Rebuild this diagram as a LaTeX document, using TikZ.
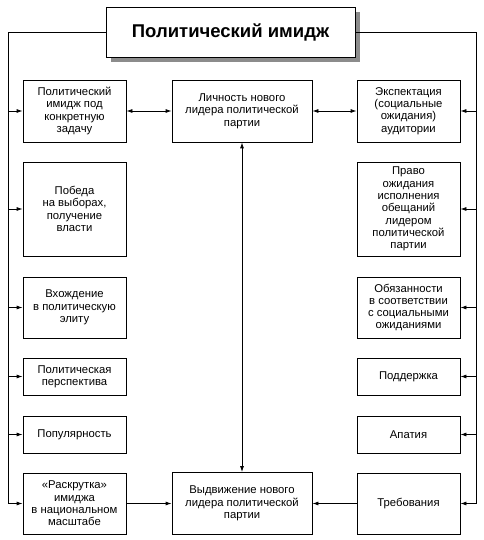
\documentclass[tikz,border=0pt]{standalone}
\usepackage{fontspec}
\setmainfont{Liberation Sans}
\usetikzlibrary{arrows.meta}
\begin{document}
\begin{tikzpicture}[x=1pt,y=-1pt,
  box/.style={draw=black,line width=0.8pt,fill=white,inner sep=0pt,align=center,
    font=\fontsize{11.3}{12.3}\selectfont},
  sidebox/.style={box,minimum width=103pt},
  midbox/.style={box,minimum width=140pt,minimum height=62pt},
  conn/.style={line width=0.8pt},
  arr/.style={conn,-{Latex[length=6pt,width=4pt]}},
  darr/.style={conn,{Latex[length=6pt,width=4pt]}-{Latex[length=6pt,width=4pt]}}
]
\useasboundingbox (0,0) rectangle (483,540);
% title
\fill[black!45] (111,12) rectangle (360,62);
\node[box,minimum width=249pt,minimum height=50pt,font=\fontsize{18.5}{20}\bfseries\selectfont] (T) at (230.5,32) {Политический имидж};
% left column
\node[sidebox,minimum height=62pt] (L1) at (74.5,111) {Политический\\имидж под\\конкретную\\задачу};
\node[sidebox,minimum height=94pt] (L2) at (74.5,209) {Победа\\на выборах,\\получение\\власти};
\node[sidebox,minimum height=61pt] (L3) at (74.5,307.5) {Вхождение\\в политическую\\элиту};
\node[sidebox,minimum height=37pt] (L4) at (74.5,376.5) {Политическая\\перспектива};
\node[sidebox,minimum height=37pt] (L5) at (74.5,434.5) {Популярность};
\node[sidebox,minimum height=61pt] (L6) at (74.5,503.5) {«Раскрутка»\\имиджа\\в национальном\\масштабе};
% right column
\node[sidebox,minimum height=62pt] (R1) at (408.5,111) {Экспектация\\(социальные\\ожидания)\\аудитории};
\node[sidebox,minimum height=94pt] (R2) at (408.5,209) {Право\\ожидания\\исполнения\\обещаний\\лидером\\политической\\партии};
\node[sidebox,minimum height=61pt] (R3) at (408.5,307.5) {Обязанности\\в соответствии\\с социальными\\ожиданиями};
\node[sidebox,minimum height=37pt] (R4) at (408.5,376.5) {Поддержка};
\node[sidebox,minimum height=37pt] (R5) at (408.5,434.5) {Апатия};
\node[sidebox,minimum height=61pt] (R6) at (408.5,503.5) {Требования};
% middle
\node[midbox] (M1) at (242,111) {Личность нового\\лидера политической\\партии};
\node[midbox] (M2) at (242,503.5) {Выдвижение нового\\лидера политической\\партии};
% trunks
\coordinate (lb) at (8,503.5);
\coordinate (rb) at (476,503.5);
\draw[conn] (T.west) -| (lb);
\draw[conn] (T.east) -| (rb);
\foreach \n in {L1,L2,L3,L4,L5,L6}{\draw[arr] (lb |- \n.west) -- (\n.west);}
\foreach \n in {R1,R2,R3,R4,R5,R6}{\draw[arr] (rb |- \n.east) -- (\n.east);}
% middle connections
\draw[darr] (L1) -- (M1);
\draw[darr] (M1) -- (R1);
\draw[darr] (M1) -- (M2);
\draw[arr] (L6) -- (M2);
\draw[arr] (R6) -- (M2);
\end{tikzpicture}
\end{document}
